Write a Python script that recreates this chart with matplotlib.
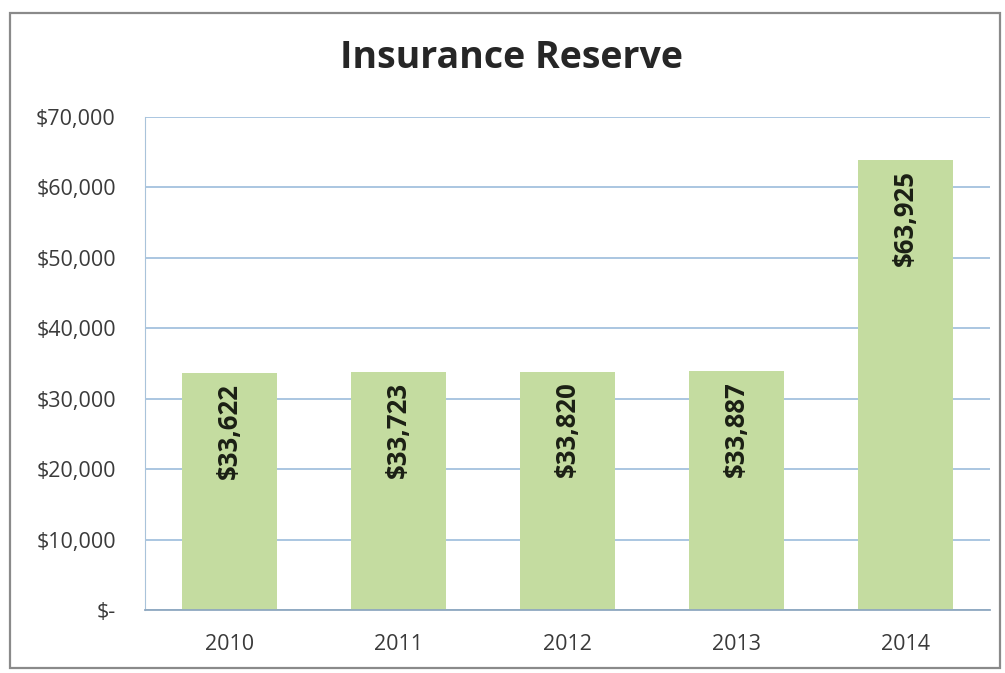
import matplotlib.pyplot as plt
from matplotlib.patches import Rectangle
from matplotlib.ticker import FuncFormatter

plt.rcParams['font.family'] = ['Open Sans', 'DejaVu Sans']

years = ['2010', '2011', '2012', '2013', '2014']
reserve = [33622, 33723, 33820, 33887, 63925]
y_ticks = [0, 10000, 20000, 30000, 40000, 50000, 60000, 70000]

BAR_GREEN = '#c4dca0'
GRID_BLUE = '#93b7d8'
TEXT_GRAY = '#3a3a3a'

fig = plt.figure(figsize=(10.05, 6.73), dpi=100)

# chart frame, runs off the right and bottom edges a little
frame = Rectangle((10 / 1005, 1 - 668 / 673), 990 / 1005, 655 / 673,
                  transform=fig.transFigure, facecolor='none',
                  edgecolor='#8a8a8a', linewidth=1.6, zorder=0)
fig.patches.append(frame)

ax = fig.add_axes([145 / 1005, 1 - 610 / 673, 845 / 1005, 493 / 673])

x = range(len(years))
ax.bar(x, reserve, width=0.56, color=BAR_GREEN, zorder=2)

ax.set_xlim(-0.5, len(years) - 0.5)
ax.set_ylim(0, 70000)
ax.set_yticks(y_ticks)


def dollars(v, pos):
    return '$-' if v == 0 else f'${v:,.0f}'


ax.yaxis.set_major_formatter(FuncFormatter(dollars))
ax.set_xticks(list(x))
ax.set_xticklabels(years)
ax.tick_params(axis='both', length=0, labelsize=15.5, colors=TEXT_GRAY)
ax.tick_params(axis='x', pad=17)
ax.tick_params(axis='y', pad=21)

ax.grid(axis='y', color=GRID_BLUE, linewidth=1.1, zorder=1)
ax.set_axisbelow(True)
for side in ['top', 'right']:
    ax.spines[side].set_visible(False)
ax.spines['left'].set_color('#a9c3da')
ax.spines['bottom'].set_color('#8fa8c0')
ax.spines['bottom'].set_linewidth(1.3)

# values written inside the top of each bar
for xi, v in zip(x, reserve):
    ax.annotate(f'${v:,}', (xi, v), xytext=(0, -7), textcoords='offset points',
                rotation=90, ha='center', va='top', fontsize=18.5,
                fontweight='bold', color='#1b1f14', zorder=3)

fig.text(512 / 1005, 1 - 58 / 673, 'Insurance Reserve', ha='center',
         va='center', fontsize=27, fontweight='bold', color='#262626')

fig.savefig('out.png', dpi=100)
